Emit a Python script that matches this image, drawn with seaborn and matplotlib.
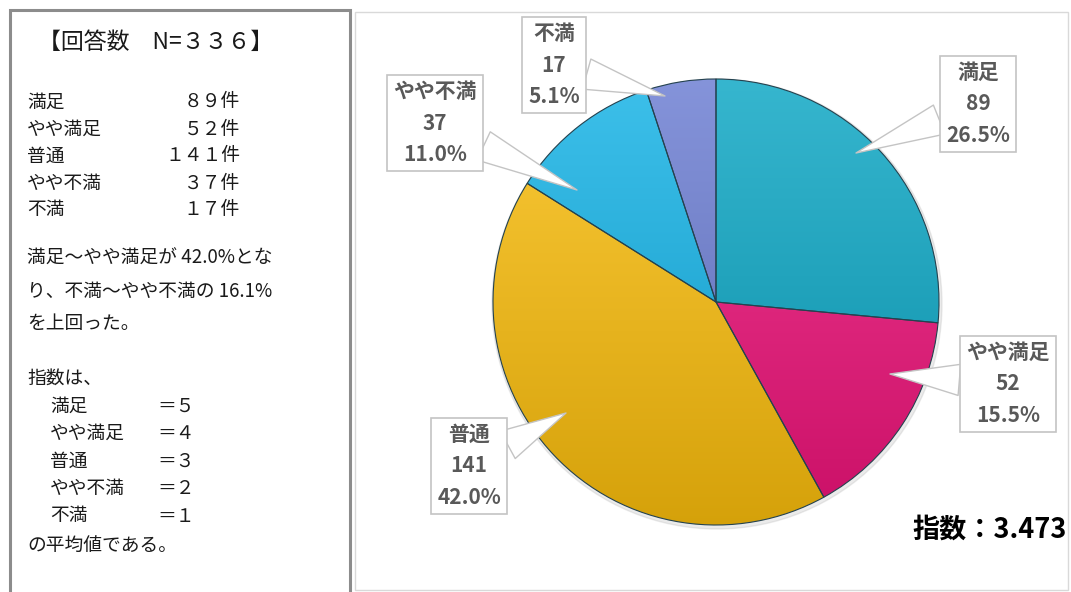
import numpy as np
import matplotlib.pyplot as plt
import seaborn as sns
from matplotlib.patches import Rectangle, Circle
from matplotlib.colors import to_rgb

# data
categories = ['満足', 'やや満足', '普通', 'やや不満', '不満']
counts = [89, 52, 141, 37, 17]
scores = [5, 4, 3, 2, 1]
colors = ['#0AA6C4', '#EE1279', '#FBBE0C', '#12B2E6', '#6A7CD2']

# layout (pixel coords, measured from top-left)
W, H = 1071, 592
label_pos = [(978, 104), (1008, 384), (469, 466), (435, 123), (554, 65)]
tip_pos = [(856, 153), (890, 374), (566, 413), (577, 190), (665, 96)]

sns.set_theme(style='white')
plt.rcParams['font.family'] = ['Noto Sans CJK JP', 'DejaVu Sans']


def top(y):
    return H - y


def zen(n):
    # half-width digits -> full-width
    return str(n).translate(str.maketrans('0123456789', '０１２３４５６７８９'))


total = sum(counts)
pcts = [c / total * 100 for c in counts]
index_val = sum(c * s for c, s in zip(counts, scores)) / total
good = (counts[0] + counts[1]) / total * 100
bad = (counts[3] + counts[4]) / total * 100

fig = plt.figure(figsize=(W / 100, H / 100), dpi=100)
ax = fig.add_axes([0, 0, 1, 1])

# pie
cx, cy, r = 716, top(302), 223
ax.add_patch(Circle((cx + 1, cy - 2), r + 2, color='#b0b0b0', alpha=0.25, zorder=1))
wedges, _ = ax.pie(counts, colors=colors, startangle=90, counterclock=False,
                   center=(cx, cy), radius=r,
                   wedgeprops=dict(edgecolor='#24424f', linewidth=0.8))

# soft vertical shading on each slice
grad = np.linspace(0, 1, 256)[:, None, None]
for w, c in zip(wedges, colors):
    base = np.array(to_rgb(c))
    light = base + (1 - base) * 0.18
    dark = base * 0.85
    img = light * (1 - grad) + dark * grad
    im = ax.imshow(img, extent=[cx - r, cx + r, cy - r, cy + r], aspect='auto',
                   origin='upper', zorder=2)
    im.set_clip_path(w)
    w.set_facecolor('none')
    w.set_zorder(3)

# callout labels
for name, n, p, lp, tp in zip(categories, counts, pcts, label_pos, tip_pos):
    ax.annotate(f'{name}\n{n}\n{p:.1f}%', xy=(tp[0], top(tp[1])),
                xytext=(lp[0], top(lp[1])), ha='center', va='center',
                multialignment='center', fontsize=15, fontweight='bold',
                color='#595959', linespacing=1.6, zorder=6,
                bbox=dict(boxstyle='square,pad=0.3', fc='white', ec='#c4c4c4', lw=1.2),
                arrowprops=dict(arrowstyle='wedge,tail_width=1.5,shrink_factor=0.5',
                                fc='white', ec='#c4c4c4', lw=1, shrinkA=0, shrinkB=0))

ax.text(1067, top(530), f'指数：{index_val:.3f}', ha='right', va='center',
        fontsize=19.5, fontweight='bold', color='black', zorder=6)

# chart area frame
ax.add_patch(Rectangle((355, 2), 713, top(12) - 2, fill=False, ec='#d9d9d9', lw=1, zorder=0))

# left text panel
ax.add_patch(Rectangle((10, -10), 340, top(10) + 10, fill=False, ec='#8c8c8c', lw=2.2, zorder=5))
txt = dict(fontsize=13.5, color='#1a1a1a', va='center', zorder=6)
ax.text(38, top(42), f'【回答数　N={zen(total)}】', fontsize=16.5, color='#1a1a1a',
        va='center', zorder=6)
for i, (name, n) in enumerate(zip(categories, counts)):
    y = 102 + i * 27
    ax.text(27, top(y), name, ha='left', **txt)
    ax.text(240, top(y), f'{zen(n)}件', ha='right', **txt)

para = [f'満足～やや満足が {good:.1f}%とな',
        f'り、不満～やや不満の {bad:.1f}%',
        'を上回った。']
for i, line in enumerate(para):
    ax.text(27, top(258 + i * 33), line, ha='left', **txt)

ax.text(27, top(378), '指数は、', ha='left', **txt)
for i, (name, s) in enumerate(zip(categories, scores)):
    y = 406 + i * 27.5
    ax.text(50, top(y), name, ha='left', **txt)
    ax.text(157, top(y), f'＝{zen(s)}', ha='left', **txt)
ax.text(27, top(545), 'の平均値である。', ha='left', **txt)

ax.set_xlim(0, W)
ax.set_ylim(0, H)
ax.set_aspect('equal')
ax.axis('off')

fig.savefig('out.png', dpi=100, facecolor='white')
